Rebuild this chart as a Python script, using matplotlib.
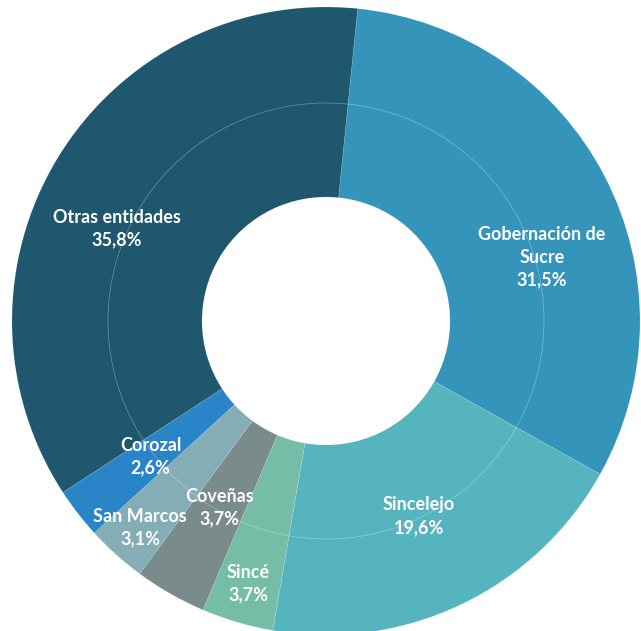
import matplotlib
matplotlib.use("Agg")
import matplotlib.pyplot as plt
import numpy as np

labels = ["Gobernación de\nSucre", "Sincelejo", "Sincé", "Coveñas",
          "San Marcos", "Corozal", "Otras entidades"]
shares = [31.5, 19.6, 3.7, 3.7, 3.1, 2.6, 35.8]
colors = ["#3594BA", "#56B4BF", "#76BDA8", "#7A8B8C",
          "#85ADB5", "#2A84C8", "#1F576E"]

# label placement (fraction of outer radius, angle nudge in degrees)
label_r = [0.717, 0.688, 0.873, 0.685, 0.885, 0.707, 0.729]
label_nudge = [-11.0, 0.0, 0.0, 0.0, 0.0, 0.0, 7.6]

W, H = 641, 631
cx, cy = 326, H - 321
R_out, R_in = 314, 124

fig = plt.figure(figsize=(W / 100, H / 100), dpi=100)
ax = fig.add_axes([0, 0, 1, 1])

wedges, _ = ax.pie(shares, colors=colors, radius=R_out, center=(cx, cy),
                   startangle=84.2, counterclock=False, frame=True,
                   wedgeprops=dict(width=R_out - R_in, edgecolor=(1, 1, 1, 0.15),
                                   linewidth=0.5))
ax.set_xlim(0, W)
ax.set_ylim(0, H)
ax.set_aspect("equal")
ax.axis("off")

# faint inner guide circle
ring = plt.Circle((cx, cy), 218, fill=False, color="white", alpha=0.3, lw=0.6)
ax.add_patch(ring)

for w, lab, s, rf, nd in zip(wedges, labels, shares, label_r, label_nudge):
    mid = np.deg2rad((w.theta1 + w.theta2) / 2 + nd)
    x = cx + rf * R_out * np.cos(mid)
    y = cy + rf * R_out * np.sin(mid)
    txt = f"{lab}\n{s:.1f}%".replace(".", ",")
    ax.text(x, y, txt, ha="center", va="center", color="white",
            fontsize=13, fontweight="bold", family="Lato", linespacing=1.4)

fig.savefig("out.png", dpi=100)
